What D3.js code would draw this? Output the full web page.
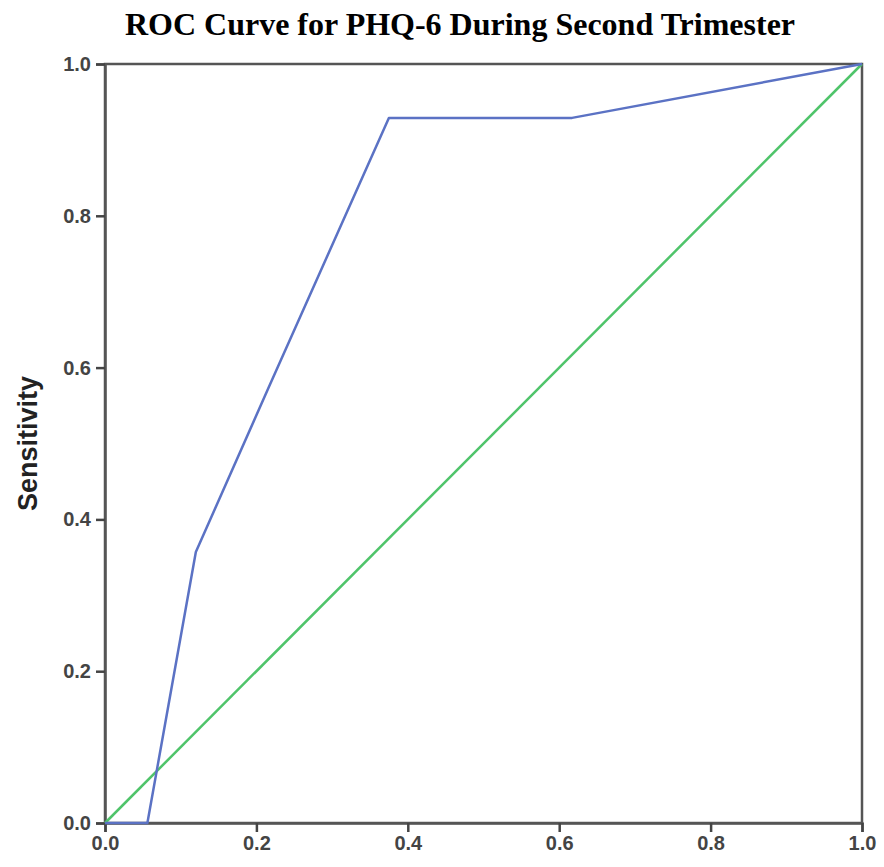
<!DOCTYPE html>
<html>
<head>
<meta charset="utf-8">
<script src="https://cdn.jsdelivr.net/npm/d3@7"></script>
<style>
  body { margin: 0; background: #fff; }
  .tick text { font-family: "Liberation Sans", Arial, sans-serif; font-weight: bold; fill: #444; }
</style>
</head>
<body>
<div id="chart"></div>
<script>
// ROC curve points (1 - specificity, sensitivity)
var fpr = [0, 0.056, 0.12, 0.215, 0.375, 0.617, 1];
var tpr = [0, 0, 0.357, 0.571, 0.929, 0.929, 1];
// reference diagonal
var refX = [0, 1];
var refY = [0, 1];
var tickVals = [0, 0.2, 0.4, 0.6, 0.8, 1.0];

var width = 884, height = 867;
var margin = { top: 64, right: 22, bottom: 44, left: 105 };

var svg = d3.select("#chart").append("svg")
  .attr("width", width)
  .attr("height", height);

var x = d3.scaleLinear().domain([0, 1]).range([margin.left, width - margin.right]);
var y = d3.scaleLinear().domain([0, 1]).range([height - margin.bottom, margin.top]);

// title
svg.append("text")
  .attr("x", 460)
  .attr("y", 35)
  .attr("text-anchor", "middle")
  .style("font-family", "'Liberation Serif', 'Times New Roman', serif")
  .style("font-weight", "bold")
  .style("font-size", "32px")
  .text("ROC Curve for PHQ-6 During Second Trimester");

// frame (top & right)
svg.append("rect")
  .attr("x", x(0)).attr("y", y(1))
  .attr("width", x(1) - x(0)).attr("height", y(0) - y(1))
  .attr("fill", "none")
  .attr("stroke", "#555")
  .attr("stroke-width", 2.5);

var xAxis = svg.append("g")
  .attr("transform", `translate(0,${y(0)})`)
  .call(d3.axisBottom(x).tickValues(tickVals).tickFormat(d3.format(".1f")).tickSize(9).tickPadding(4));
var yAxis = svg.append("g")
  .attr("transform", `translate(${x(0)},0)`)
  .call(d3.axisLeft(y).tickValues(tickVals).tickFormat(d3.format(".1f")).tickSize(9).tickPadding(5));

[xAxis, yAxis].forEach(function (a) {
  a.select(".domain").attr("stroke", "#555").attr("stroke-width", 2.5);
  a.selectAll(".tick line").attr("stroke", "#444").attr("stroke-width", 2.5);
  a.selectAll(".tick text").style("font-size", "20px");
});

// axis title
svg.append("text")
  .attr("transform", `translate(37,${(y(0) + y(1)) / 2}) rotate(-90)`)
  .attr("text-anchor", "middle")
  .style("font-family", "'Liberation Sans', Arial, sans-serif")
  .style("font-weight", "bold")
  .style("font-size", "27px")
  .style("fill", "#222")
  .text("Sensitivity");

var line = d3.line()
  .x(function (d) { return x(d[0]); })
  .y(function (d) { return y(d[1]); });

svg.append("path")
  .datum(d3.zip(refX, refY))
  .attr("d", line)
  .attr("fill", "none")
  .attr("stroke", "#4fc46a")
  .attr("stroke-width", 2.5);

svg.append("path")
  .datum(d3.zip(fpr, tpr))
  .attr("d", line)
  .attr("fill", "none")
  .attr("stroke", "#5b72c4")
  .attr("stroke-width", 2.5)
  .attr("stroke-linejoin", "round");
</script>
</body>
</html>
